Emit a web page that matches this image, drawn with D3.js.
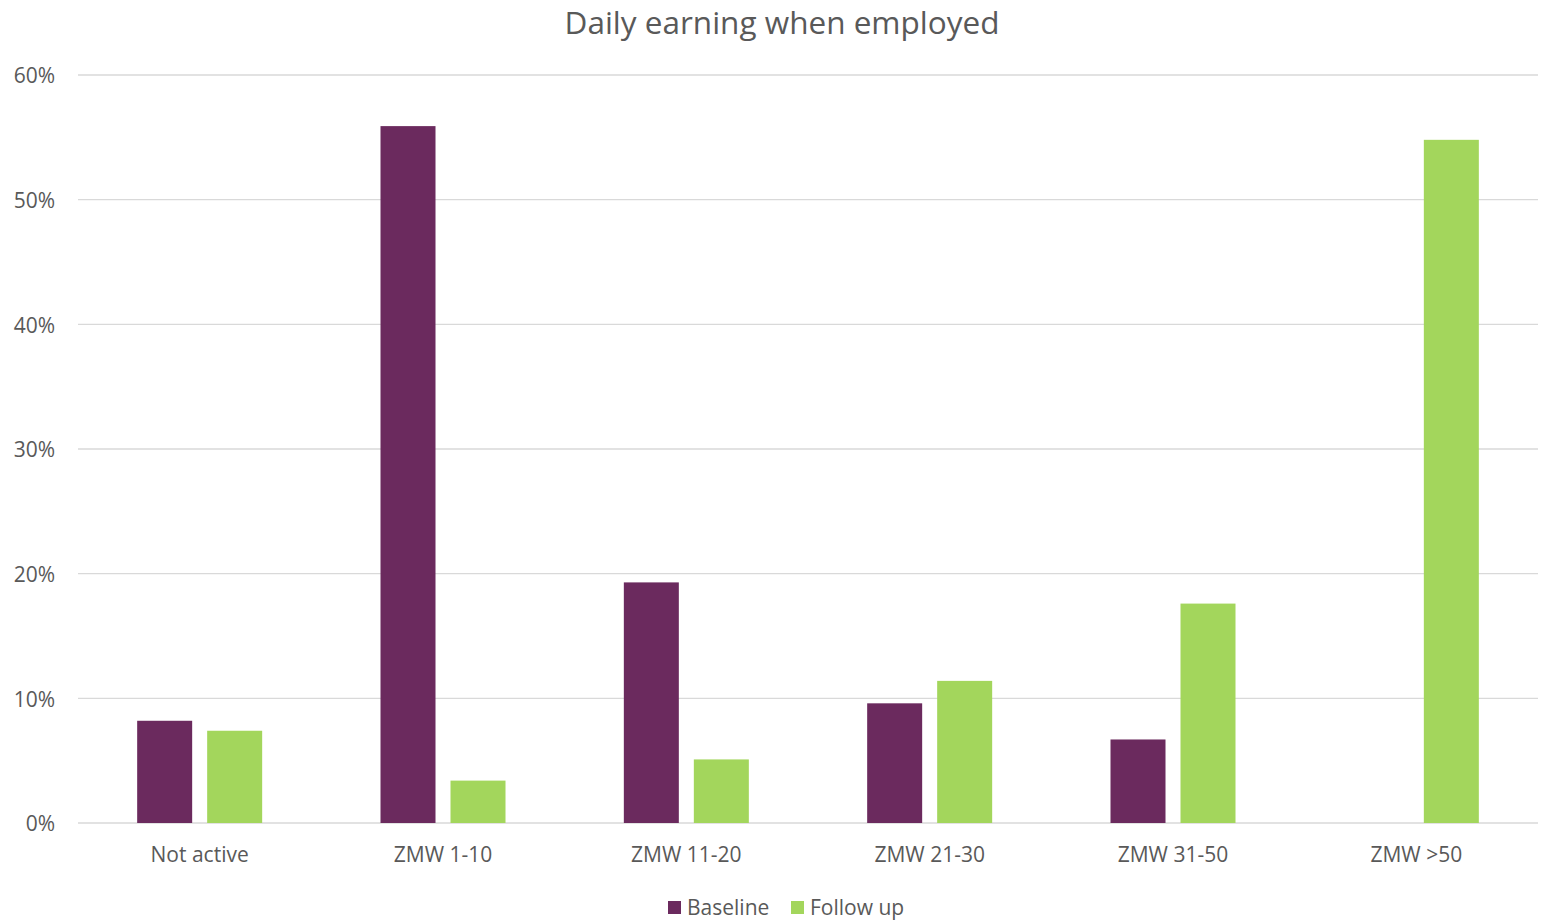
<!DOCTYPE html>
<html>
<head>
<meta charset="utf-8">
<script src="https://cdn.jsdelivr.net/npm/d3@7"></script>
<style>
  body { margin: 0; background: #fff; }
  text { font-family: "Open Sans", "Noto Sans", sans-serif; }
</style>
</head>
<body>
<div id="chart"></div>
<script>
// chart data
const categories = ["Not active", "ZMW 1-10", "ZMW 11-20", "ZMW 21-30", "ZMW 31-50", "ZMW >50"];
const baseline = [0.082, 0.559, 0.193, 0.096, 0.067, 0];
const followUp = [0.074, 0.034, 0.051, 0.114, 0.176, 0.548];
const seriesNames = ["Baseline", "Follow up"];
const yTicks = [0, 0.1, 0.2, 0.3, 0.4, 0.5, 0.6];
const colors = ["#6B2A5E", "#A3D65C"];

const svgWidth = 1544, svgHeight = 920;
const margin = { top: 75, right: 6, bottom: 97, left: 78 };
const width = svgWidth - margin.left - margin.right;
const height = svgHeight - margin.top - margin.bottom;

const svg = d3.select("#chart").append("svg")
    .attr("width", svgWidth)
    .attr("height", svgHeight);

const g = svg.append("g")
    .attr("transform", "translate(" + margin.left + "," + margin.top + ")");

const x = d3.scaleBand().domain(categories).range([0, width]);
const y = d3.scaleLinear().domain([0, 0.6]).range([height, 0]);

// gridlines
g.selectAll(".grid")
    .data(yTicks)
    .enter().append("line")
    .attr("x1", 0)
    .attr("x2", width)
    .attr("y1", d => y(d))
    .attr("y2", d => y(d))
    .attr("stroke", "#d9d9d9")
    .attr("stroke-width", 1.3);

// y labels
g.selectAll(".ylab")
    .data(yTicks)
    .enter().append("text")
    .attr("x", -23)
    .attr("y", d => y(d) + 1)
    .attr("dy", "0.35em")
    .attr("text-anchor", "end")
    .style("font-size", "21px")
    .style("fill", "#595959")
    .text(d => d3.format(".0%")(d));

// bars
const barW = 55, gap = 15;
const rows = categories.map((c, i) => ({ cat: c, values: [baseline[i], followUp[i]] }));

const grp = g.selectAll(".cat")
    .data(rows)
    .enter().append("g")
    .attr("transform", d => "translate(" + (x(d.cat) + x.bandwidth() / 2) + ",0)");

grp.selectAll("rect")
    .data(d => d.values)
    .enter().append("rect")
    .attr("x", (d, i) => i === 0 ? -gap / 2 - barW : gap / 2)
    .attr("width", barW)
    .attr("y", d => y(d))
    .attr("height", d => height - y(d))
    .attr("fill", (d, i) => colors[i]);

// x labels
g.selectAll(".xlab")
    .data(categories)
    .enter().append("text")
    .attr("x", d => x(d) + x.bandwidth() / 2)
    .attr("y", height + 39)
    .attr("text-anchor", "middle")
    .style("font-size", "21px")
    .style("fill", "#595959")
    .text(d => d);

// title
svg.append("text")
    .attr("x", 782)
    .attr("y", 34)
    .attr("text-anchor", "middle")
    .style("font-size", "31.5px")
    .style("fill", "#595959")
    .text("Daily earning when employed");

// legend
const legend = svg.append("g").attr("transform", "translate(668,908)");
const legendX = [0, 123];
seriesNames.forEach((name, i) => {
    legend.append("rect")
        .attr("x", legendX[i])
        .attr("y", -7)
        .attr("width", 13)
        .attr("height", 13)
        .attr("fill", colors[i]);
    legend.append("text")
        .attr("x", legendX[i] + 19)
        .attr("y", 0)
        .attr("dy", "0.35em")
        .style("font-size", "21px")
        .style("fill", "#595959")
        .text(name);
});
</script>
</body>
</html>
